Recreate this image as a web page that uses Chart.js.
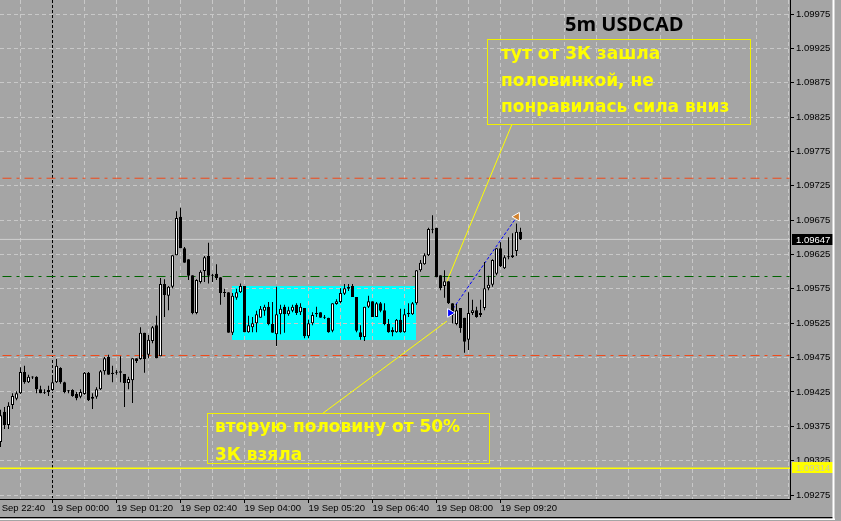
<!DOCTYPE html>
<html>
<head>
<meta charset="utf-8">
<script src="https://cdn.jsdelivr.net/npm/chart.js@4.4.1/dist/chart.umd.min.js"></script>
<style>
  html, body { margin: 0; padding: 0; background: #a5a5a5; overflow: hidden; }
  canvas { display: block; }
</style>
</head>
<body>
<canvas id="chart" width="841" height="521"></canvas>
<script>
// 5m candles, 18 Sep 22:55 .. 19 Sep 09:45
const times = [
  '22:55', '23:00', '23:05', '23:10', '23:15', '23:20', '23:25', '23:30', '23:35', '23:40', '23:45', '23:50', '23:55',
  '00:00', '00:05', '00:10', '00:15', '00:20', '00:25', '00:30', '00:35', '00:40', '00:45', '00:50', '00:55',
  '01:00', '01:05', '01:10', '01:15', '01:20', '01:25', '01:30', '01:35', '01:40', '01:45', '01:50', '01:55',
  '02:00', '02:05', '02:10', '02:15', '02:20', '02:25', '02:30', '02:35', '02:40', '02:45', '02:50', '02:55',
  '03:00', '03:05', '03:10', '03:15', '03:20', '03:25', '03:30', '03:35', '03:40', '03:45', '03:50', '03:55',
  '04:00', '04:05', '04:10', '04:15', '04:20', '04:25', '04:30', '04:35', '04:40', '04:45', '04:50', '04:55',
  '05:00', '05:05', '05:10', '05:15', '05:20', '05:25', '05:30', '05:35', '05:40', '05:45', '05:50', '05:55',
  '06:00', '06:05', '06:10', '06:15', '06:20', '06:25', '06:30', '06:35', '06:40', '06:45', '06:50', '06:55',
  '07:00', '07:05', '07:10', '07:15', '07:20', '07:25', '07:30', '07:35', '07:40', '07:45', '07:50', '07:55',
  '08:00', '08:05', '08:10', '08:15', '08:20', '08:25', '08:30', '08:35', '08:40', '08:45', '08:50', '08:55',
  '09:00', '09:05', '09:10', '09:15', '09:20', '09:25', '09:30', '09:35', '09:40', '09:45'
];
const opens = [
  1.09352, 1.09396, 1.09377, 1.09406, 1.09415, 1.09423, 1.09454, 1.09439, 1.09446, 1.09447, 1.09429, 1.09425, 1.09428,
  1.09428, 1.09439, 1.09460, 1.09439, 1.09426, 1.09428, 1.09422, 1.09418, 1.09422, 1.09453, 1.09418, 1.09418,
  1.09429, 1.09455, 1.09476, 1.09453, 1.09454, 1.09455, 1.09451, 1.09438, 1.09442, 1.09474, 1.09473, 1.09511,
  1.09479, 1.09499, 1.09522, 1.09477, 1.09582, 1.09565, 1.09578, 1.09624, 1.09680, 1.09634, 1.09618, 1.09595,
  1.09540, 1.09585, 1.09601, 1.09623, 1.09594, 1.09597, 1.09592, 1.09569, 1.09570, 1.09511, 1.09562, 1.09570,
  1.09579, 1.09512, 1.09519, 1.09525, 1.09533, 1.09543, 1.09549, 1.09524, 1.09509, 1.09538, 1.09549, 1.09538,
  1.09543, 1.09552, 1.09541, 1.09547, 1.09506, 1.09525, 1.09538, 1.09541, 1.09534, 1.09533, 1.09514, 1.09553,
  1.09556, 1.09568, 1.09575, 1.09579, 1.09563, 1.09512, 1.09505, 1.09549, 1.09557, 1.09534, 1.09554, 1.09544,
  1.09524, 1.09515, 1.09512, 1.09530, 1.09512, 1.09538, 1.09538, 1.09554, 1.09602, 1.09611, 1.09624, 1.09662,
  1.09664, 1.09595, 1.09579, 1.09586, 1.09554, 1.09524, 1.09547, 1.09533, 1.09501, 1.09540, 1.09544, 1.09537,
  1.09547, 1.09576, 1.09581, 1.09597, 1.09634, 1.09605, 1.09621, 1.09621, 1.09630, 1.09658
];
const highs = [
  1.09399, 1.09403, 1.09410, 1.09423, 1.09426, 1.09461, 1.09463, 1.09450, 1.09448, 1.09448, 1.09434, 1.09429, 1.09434,
  1.09447, 1.09473, 1.09461, 1.09440, 1.09428, 1.09429, 1.09425, 1.09429, 1.09454, 1.09454, 1.09423, 1.09432,
  1.09457, 1.09476, 1.09479, 1.09463, 1.09457, 1.09477, 1.09451, 1.09447, 1.09474, 1.09474, 1.09519, 1.09511,
  1.09508, 1.09521, 1.09536, 1.09591, 1.09589, 1.09579, 1.09624, 1.09688, 1.09693, 1.09636, 1.09618, 1.09595,
  1.09589, 1.09602, 1.09623, 1.09642, 1.09597, 1.09611, 1.09592, 1.09575, 1.09570, 1.09569, 1.09575, 1.09583,
  1.09579, 1.09536, 1.09534, 1.09543, 1.09550, 1.09552, 1.09556, 1.09556, 1.09578, 1.09552, 1.09552, 1.09549,
  1.09552, 1.09554, 1.09554, 1.09547, 1.09530, 1.09541, 1.09549, 1.09541, 1.09537, 1.09533, 1.09554, 1.09560,
  1.09576, 1.09582, 1.09582, 1.09582, 1.09563, 1.09522, 1.09549, 1.09565, 1.09557, 1.09556, 1.09556, 1.09554,
  1.09531, 1.09519, 1.09531, 1.09546, 1.09546, 1.09554, 1.09556, 1.09602, 1.09617, 1.09627, 1.09664, 1.09682,
  1.09664, 1.09595, 1.09602, 1.09586, 1.09554, 1.09553, 1.09547, 1.09533, 1.09570, 1.09559, 1.09549, 1.09559,
  1.09614, 1.09594, 1.09618, 1.09634, 1.09643, 1.09624, 1.09650, 1.09656, 1.09670, 1.09664
];
const lows = [
  1.09345, 1.09371, 1.09371, 1.09400, 1.09413, 1.09422, 1.09437, 1.09438, 1.09444, 1.09423, 1.09423, 1.09422, 1.09419,
  1.09426, 1.09438, 1.09437, 1.09423, 1.09423, 1.09418, 1.09413, 1.09416, 1.09421, 1.09412, 1.09400, 1.09415,
  1.09428, 1.09450, 1.09450, 1.09439, 1.09450, 1.09439, 1.09403, 1.09429, 1.09409, 1.09467, 1.09472, 1.09453,
  1.09474, 1.09496, 1.09474, 1.09477, 1.09534, 1.09544, 1.09576, 1.09624, 1.09634, 1.09613, 1.09588, 1.09538,
  1.09538, 1.09583, 1.09585, 1.09583, 1.09585, 1.09588, 1.09552, 1.09563, 1.09511, 1.09508, 1.09559, 1.09569,
  1.09512, 1.09511, 1.09512, 1.09512, 1.09533, 1.09536, 1.09522, 1.09511, 1.09492, 1.09509, 1.09511, 1.09536,
  1.09541, 1.09537, 1.09537, 1.09503, 1.09503, 1.09522, 1.09534, 1.09533, 1.09531, 1.09511, 1.09512, 1.09552,
  1.09554, 1.09566, 1.09572, 1.09563, 1.09512, 1.09501, 1.09499, 1.09547, 1.09534, 1.09534, 1.09541, 1.09522,
  1.09511, 1.09506, 1.09511, 1.09511, 1.09511, 1.09534, 1.09537, 1.09552, 1.09600, 1.09610, 1.09623, 1.09656,
  1.09592, 1.09573, 1.09562, 1.09553, 1.09525, 1.09522, 1.09511, 1.09482, 1.09486, 1.09537, 1.09533, 1.09534,
  1.09544, 1.09573, 1.09578, 1.09595, 1.09607, 1.09604, 1.09618, 1.09620, 1.09623, 1.09646
];
const closes = [
  1.09391, 1.09377, 1.09405, 1.09419, 1.09423, 1.09454, 1.09439, 1.09447, 1.09446, 1.09429, 1.09423, 1.09424, 1.09425,
  1.09439, 1.09463, 1.09439, 1.09425, 1.09426, 1.09419, 1.09416, 1.09425, 1.09453, 1.09413, 1.09415, 1.09429,
  1.09455, 1.09474, 1.09450, 1.09451, 1.09453, 1.09453, 1.09438, 1.09444, 1.09474, 1.09470, 1.09511, 1.09473,
  1.09501, 1.09519, 1.09474, 1.09582, 1.09566, 1.09578, 1.09624, 1.09678, 1.09634, 1.09613, 1.09594, 1.09540,
  1.09588, 1.09600, 1.09621, 1.09594, 1.09594, 1.09591, 1.09569, 1.09569, 1.09511, 1.09565, 1.09570, 1.09579,
  1.09512, 1.09522, 1.09525, 1.09538, 1.09546, 1.09549, 1.09524, 1.09511, 1.09538, 1.09546, 1.09538, 1.09544,
  1.09549, 1.09540, 1.09549, 1.09506, 1.09525, 1.09537, 1.09540, 1.09533, 1.09533, 1.09512, 1.09554, 1.09557,
  1.09569, 1.09576, 1.09578, 1.09563, 1.09514, 1.09505, 1.09549, 1.09557, 1.09534, 1.09554, 1.09543, 1.09524,
  1.09512, 1.09512, 1.09530, 1.09512, 1.09538, 1.09540, 1.09554, 1.09602, 1.09613, 1.09624, 1.09662, 1.09661,
  1.09592, 1.09576, 1.09586, 1.09554, 1.09537, 1.09544, 1.09518, 1.09498, 1.09540, 1.09544, 1.09534, 1.09540,
  1.09576, 1.09581, 1.09617, 1.09634, 1.09608, 1.09621, 1.09621, 1.09624, 1.09658, 1.09647
];

// axis ticks (x values are candle slots, slot 13 = 19 Sep 00:00)
const yTicks = [1.09275, 1.09325, 1.09375, 1.09425, 1.09475, 1.09525, 1.09575, 1.09625,
  1.09675, 1.09725, 1.09775, 1.09825, 1.09875, 1.09925, 1.09975];
const xTickSlots = [-3, 13, 29, 45, 61, 77, 93, 109, 125];
const xTickLabels = ['18 Sep 22:40', '19 Sep 00:00', '19 Sep 01:20', '19 Sep 02:40', '19 Sep 04:00',
  '19 Sep 05:20', '19 Sep 06:40', '19 Sep 08:00', '19 Sep 09:20'];
const daySeparator = 13;

// horizontal levels
const redLevels = [1.09736, 1.09478];
const greenLevel = 1.09593;
const yellowLevel = 1.09314;
const bidPrice = 1.09647;

// drawn objects: [slot, price]
const trendUp = [[111.6, 1.09586], [127.9, 1.09815]];
const trendDown = [[80.6, 1.09394], [111.6, 1.09528]];
const tradeLine = [[112.4, 1.09540], [129.1, 1.09680]];
const zoneSlots = [57.9, 103.9];
const zonePrices = [1.09501, 1.09579];

const notes = [
  { box: [487.5, 39.5, 263, 85], x: 501, y: 59, step: 26.5,
    lines: ['тут от 3К зашла', 'половинкой, не', 'понравилась сила вниз'] },
  { box: [207.5, 413.5, 282, 50], x: 215, y: 432, step: 27.5,
    lines: ['вторую половину от 50%', '3К взяла'] }
];

const BG = '#a5a5a5';
const GRID = '#c8c8c8';
const axisFont = { family: 'Liberation Sans', size: 9.5 };

const pts = arr => arr.map(p => ({ x: p[0], y: p[1] }));
const hline = (y, color, dash, width) => ({
  type: 'line', data: [{ x: -5, y }, { x: 205, y }],
  borderColor: color, borderWidth: width || 1, borderDash: dash || [], pointRadius: 0
});

const overlay = {
  id: 'overlay',
  beforeDraw(chart) {
    const { ctx, scales: { x, y } } = chart;
    ctx.save();
    ctx.fillStyle = BG;
    ctx.fillRect(0, 0, chart.width, chart.height);
    // cyan zone sits under the grid
    const x1 = x.getPixelForValue(zoneSlots[0]), x2 = x.getPixelForValue(zoneSlots[1]);
    const y1 = y.getPixelForValue(zonePrices[1]), y2 = y.getPixelForValue(zonePrices[0]);
    ctx.fillStyle = '#00ffff';
    ctx.fillRect(Math.round(x1), Math.round(y1), Math.round(x2 - x1), Math.round(y2 - y1));
    ctx.restore();
  },
  afterDraw(chart) {
    const { ctx, scales: { y } } = chart;
    ctx.save();

    // price tags on the axis
    ctx.font = '9.5px "Liberation Sans"';
    ctx.textBaseline = 'middle';
    let py = y.getPixelForValue(bidPrice);
    ctx.fillStyle = '#000';
    ctx.fillRect(792, Math.round(py) - 5, 41, 11);
    ctx.fillStyle = '#fff';
    ctx.fillText(bidPrice.toFixed(5), 796, py + 0.5);
    py = y.getPixelForValue(yellowLevel);
    ctx.fillStyle = '#ffff00';
    ctx.fillRect(792, Math.round(py) - 6, 41, 11);
    ctx.fillStyle = '#cdcda6';
    ctx.fillText(yellowLevel.toFixed(5), 796, py);

    // title
    ctx.fillStyle = '#000';
    ctx.textBaseline = 'alphabetic';
    ctx.font = 'bold 20px "Open Sans"';
    ctx.fillText('5m USDCAD', 565, 31);

    // text boxes
    ctx.strokeStyle = '#f0f000';
    ctx.lineWidth = 1;
    ctx.fillStyle = '#ffff00';
    ctx.font = 'bold 17px "DejaVu Sans"';
    notes.forEach(n => {
      ctx.strokeRect(...n.box);
      n.lines.forEach((t, i) => ctx.fillText(t, n.x, n.y + i * n.step));
    });

    // window frame
    ctx.fillStyle = '#000';
    ctx.fillRect(0, 517, 833, 1.5);
    ctx.fillStyle = '#ffffff';
    ctx.fillRect(0, 518.5, 835, 1.5);
    ctx.fillRect(832.5, 0, 2, 520);
    ctx.restore();
  }
};

new Chart(document.querySelector('#chart'), {
  type: 'bar',
  data: {
    datasets: [
      { type: 'line', data: pts([tradeLine[0]]), showLine: false, pointStyle: 'triangle', rotation: 90,
        pointRadius: 5, pointBackgroundColor: '#0000ff', pointBorderColor: '#ffffff', pointBorderWidth: 1 },
      { type: 'line', data: pts([tradeLine[1]]), showLine: false, pointStyle: 'triangle', rotation: -90,
        pointRadius: 5, pointBackgroundColor: '#d2822d', pointBorderColor: '#ffffff', pointBorderWidth: 1 },
      { // bodies
        data: times.map((t, i) => ({ x: i, y: [opens[i], closes[i]] })),
        barThickness: 3, minBarLength: 1, borderWidth: 1, borderSkipped: false, inflateAmount: 0,
        borderColor: '#000',
        backgroundColor: c => closes[c.dataIndex] >= opens[c.dataIndex] ? '#ffffff' : '#000000'
      },
      { // wicks
        data: times.map((t, i) => ({ x: i, y: [lows[i], highs[i]] })),
        barThickness: 1, borderWidth: 0, inflateAmount: 0, backgroundColor: '#000'
      },
      { type: 'line', data: pts(tradeLine), borderColor: '#0000ff', borderWidth: 1, borderDash: [3, 2], pointRadius: 0 },
      { type: 'line', data: pts(trendUp), borderColor: '#ffff00', borderWidth: 1, pointRadius: 0 },
      { type: 'line', data: pts(trendDown), borderColor: '#ffff00', borderWidth: 1, pointRadius: 0 },
      hline(bidPrice, '#d0d0d0'),
      hline(redLevels[0], '#f04a1a', [9, 5, 3, 5]),
      hline(redLevels[1], '#f04a1a', [9, 5, 3, 5]),
      hline(greenLevel, '#006400', [9, 5, 3, 5]),
      hline(yellowLevel, '#ffff00', [], 1.5)
    ]
  },
  options: {
    responsive: false,
    animation: false,
    devicePixelRatio: 1,
    layout: { padding: 0, autoPadding: false },
    datasets: { bar: { grouped: false } },
    plugins: { legend: { display: false }, tooltip: { enabled: false } },
    scales: {
      x: {
        type: 'linear', bounds: 'data', offset: false, min: -0.125, max: 197.375,
        afterBuildTicks: s => {
          const t = [];
          for (let v = -3; v <= 197; v += 8) t.push({ value: v });
          s.ticks = t;
        },
        afterFit: s => { s.height = 22; s.paddingLeft = 0; s.paddingRight = 0; },
        grid: {
          offset: false, tickLength: 4,
          color: c => c.tick && c.tick.value === daySeparator ? '#000' : GRID,
          tickColor: c => c.tick && xTickSlots.includes(c.tick.value) ? '#000' : 'rgba(0,0,0,0)'
        },
        border: { color: '#000', dash: c => c.tick && c.tick.value === daySeparator ? [3, 2] : [4, 3] },
        ticks: {
          autoSkip: false, maxRotation: 0, minRotation: 0, align: 'start', padding: 0,
          color: '#000', font: axisFont,
          callback: v => { const j = xTickSlots.indexOf(v); return j < 0 ? '' : xTickLabels[j]; }
        }
      },
      y: {
        position: 'right', bounds: 'data', beginAtZero: false, min: 1.092692, max: 1.099954,
        afterBuildTicks: s => { s.ticks = yTicks.map(v => ({ value: v })); },
        afterFit: s => { s.width = 51; s.paddingTop = 0; s.paddingBottom = 0; },
        grid: { color: GRID, tickLength: 4, tickColor: '#000' },
        border: { color: '#000', dash: [4, 3] },
        ticks: { autoSkip: false, padding: 2, color: '#000', font: axisFont, callback: v => v.toFixed(5) }
      }
    }
  },
  plugins: [overlay]
});
</script>
</body>
</html>
